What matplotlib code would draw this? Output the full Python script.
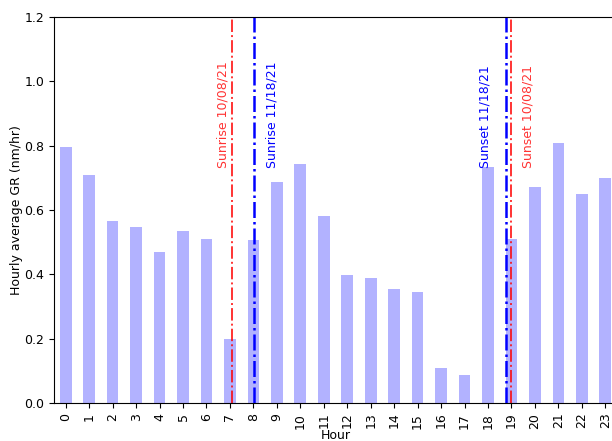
import matplotlib.pyplot as plt
import numpy as np

plt.rcParams["font.size"] = 9

# hourly average growth rate (nm/hr)
horas = list(range(24))
gr_promedio = [0.796, 0.709, 0.566, 0.547, 0.469, 0.535, 0.510, 0.199,
               0.507, 0.687, 0.743, 0.581, 0.398, 0.389, 0.354, 0.345,
               0.109, 0.087, 0.734, 0.510, 0.672, 0.808, 0.650, 0.700]

# sunrise / sunset times (fractional hour) for the two dates
eventos = ["Sunrise 10/08/21", "Sunrise 11/18/21", "Sunset 11/18/21", "Sunset 10/08/21"]
horas_evento = [7.07, 8.01, 18.78, 19.0]
colores_evento = ["red", "blue", "blue", "red"]
desplazamiento = [-0.37, 0.77, -0.9, 0.72]  # where each label sits relative to its line

fig = plt.figure(figsize=(6.12, 4.41), dpi=100)
ax = fig.add_axes([0.0882, 0.0862, 0.92, 0.8753])

x = np.arange(len(horas))
ax.bar(x, gr_promedio, width=0.5, color="blue", alpha=0.3)

for nombre, h, c, dx in zip(eventos, horas_evento, colores_evento, desplazamiento):
    lw = 1.8 if c == "blue" else 1.4
    a = 1.0 if c == "blue" else 0.8
    ax.axvline(h, color=c, linestyle="-.", linewidth=lw, alpha=a)
    ax.text(h + dx, 0.73, nombre, rotation=90, color=c, alpha=a,
            ha="center", va="bottom", fontsize=9)

ax.set_xticks(x)
ax.set_xticklabels([str(h) for h in horas], rotation=90)
ax.set_xlim(-0.5, 23.5)
ax.set_ylim(0, 1.2)
ax.set_xlabel("Hour", labelpad=0)
ax.set_ylabel("Hourly average GR (nm/hr)", labelpad=1)

fig.savefig("out.png", dpi=100)
